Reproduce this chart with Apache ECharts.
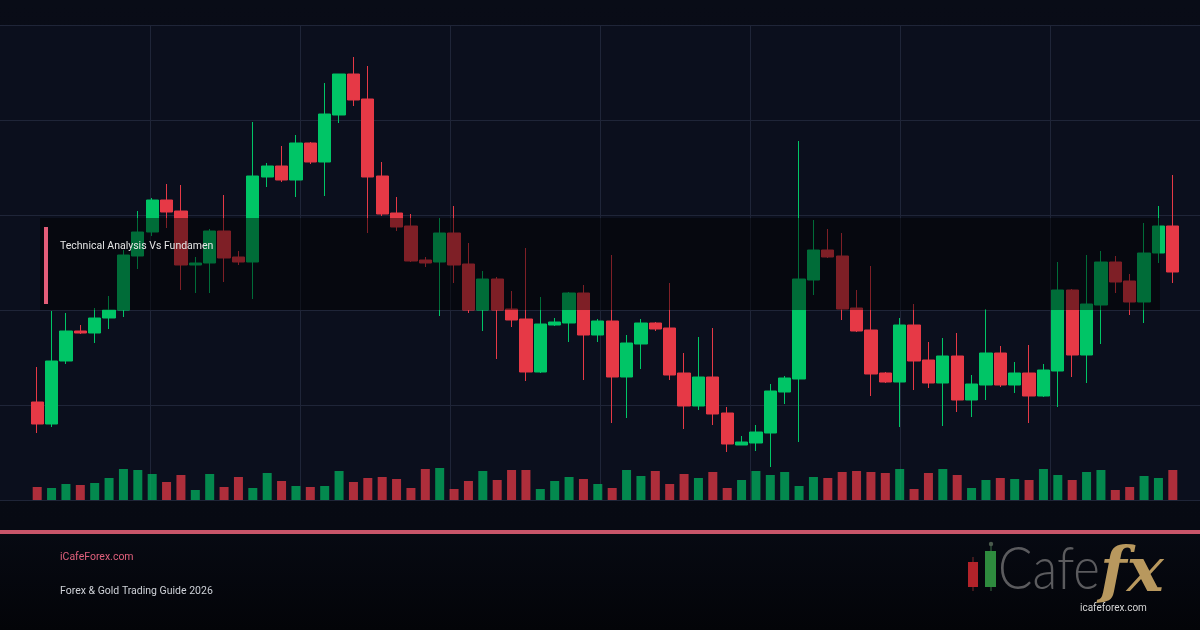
<!DOCTYPE html>
<html><head><meta charset="utf-8">
<script src="https://cdn.jsdelivr.net/npm/echarts@6/dist/echarts.min.js"></script>
<style>html,body{margin:0;padding:0;background:#090c17}#c{width:1200px;height:630px}</style>
</head><body><div id="c"></div>
<script>
// 80 sessions (no axis labels are shown in the picture)
const categories = Array.from({length: 80}, (_, i) => 'D' + (i + 1));

const opens = [2098,2076,2139,2169,2167,2182,2190,2244,2268,2300,2289,2235,2237,2269,2243,2238,2323,2334,2320,2357,
  2338,2385,2426,2401,2324,2287,2274,2240,2238,2267,2236,2190,2221,2191,2181,2128,2175,2177,2207,2165,
  2179,2123,2156,2177,2172,2127,2094,2123,2087,2055,2057,2067,2108,2121,2220,2250,2244,2192,2170,2127,
  2118,2175,2140,2117,2144,2100,2115,2147,2115,2127,2104,2129,2210,2145,2195,2238,2219,2198,2247,2274];
const closes = [2076,2139,2169,2167,2182,2190,2245,2268,2300,2288,2235,2237,2269,2242,2238,2324,2334,2320,2357,2338,
  2386,2426,2400,2323,2286,2273,2239,2237,2267,2235,2190,2221,2190,2180,2128,2176,2178,2207,2165,2179,
  2123,2157,2177,2171,2125,2094,2123,2086,2056,2058,2068,2109,2122,2221,2250,2243,2191,2169,2126,2118,
  2175,2139,2117,2144,2100,2116,2147,2115,2127,2104,2130,2210,2145,2196,2238,2218,2198,2247,2274,2228];
const lows = [2067,2073,2136,2166,2157,2171,2183,2231,2264,2272,2210,2207,2207,2218,2235,2201,2313,2318,2303,2336,
  2304,2377,2394,2267,2284,2269,2238,2233,2184,2217,2187,2169,2141,2173,2119,2127,2174,2158,2120,2158,
  2077,2082,2131,2169,2120,2071,2090,2075,2048,2055,2049,2033,2096,2058,2205,2242,2180,2168,2104,2117,
  2073,2110,2112,2074,2088,2083,2100,2113,2107,2077,2103,2093,2123,2117,2156,2207,2185,2177,2237,2217];
const highs = [2133,2189,2187,2175,2192,2204,2250,2289,2302,2316,2315,2243,2271,2305,2249,2378,2337,2354,2365,2358,
  2417,2426,2443,2434,2338,2303,2286,2243,2282,2294,2257,2229,2223,2209,2252,2203,2182,2208,2215,2181,
  2245,2165,2181,2178,2217,2147,2163,2172,2093,2064,2075,2116,2124,2359,2280,2271,2267,2210,2234,2128,
  2182,2196,2158,2162,2167,2125,2191,2154,2138,2155,2136,2238,2211,2245,2249,2244,2226,2277,2294,2325];
const volumes = [13,12,16,15,17,22,31,30,26,18,25,10,26,13,23,12,27,19,14,13,14,29,18,22,23,21,
  12,31,32,11,19,29,20,30,30,11,19,23,21,16,12,30,24,29,16,26,22,28,12,20,29,25,28,
  14,23,22,28,29,28,27,31,11,27,31,25,12,20,22,21,20,31,25,20,28,30,10,13,24,22,30];

const bandTitle = 'Technical Analysis Vs Fundamen';
const siteName = 'iCafeForex.com';
const guideTitle = 'Forex & Gold Trading Guide 2026';
const logoUrl = 'icafeforex.com';

const UP = '#00c566', DOWN = '#e63946';
const UP_VOL = 'rgba(0,190,100,0.7)', DOWN_VOL = 'rgba(230,57,70,0.75)';

const candleData = categories.map((_, i) => [opens[i], closes[i], lows[i], highs[i]]);
const volData = volumes.map((v, i) => ({value: v, itemStyle: {color: closes[i] >= opens[i] ? UP_VOL : DOWN_VOL}}));

const chart = echarts.init(document.getElementById('c'), null, {renderer: 'canvas'});
const hidden = {axisLabel: {show: false}, axisLine: {show: false}, axisTick: {show: false}};

chart.setOption({
  animation: false,
  backgroundColor: {
    type: 'linear', x: 0, y: 0, x2: 0, y2: 1,
    colorStops: [
      {offset: 0, color: '#090c17'},
      {offset: 0.84, color: '#070a13'},
      {offset: 1, color: '#030408'}
    ]
  },
  grid: [
    {left: 0, right: 0, top: 25, bottom: 130, show: true, backgroundColor: '#0b0f1d', borderWidth: 0},
    {left: 30, right: 20, top: 25, bottom: 130},
    {left: 30, right: 20, top: 440, bottom: 130}
  ],
  xAxis: [
    Object.assign({type: 'value', gridIndex: 0, min: 0, max: 8, interval: 1,
      splitLine: {show: true, showMinLine: false, showMaxLine: false, lineStyle: {color: '#1f2538', width: 1}}}, hidden),
    {type: 'category', gridIndex: 1, data: categories, show: false},
    {type: 'category', gridIndex: 2, data: categories, show: false}
  ],
  yAxis: [
    Object.assign({type: 'value', gridIndex: 0, min: 0, max: 5, interval: 1,
      splitLine: {show: true, lineStyle: {color: '#1f2538', width: 1}}}, hidden),
    {type: 'value', gridIndex: 1, min: 2000, max: 2475, show: false, splitLine: {show: false}},
    {type: 'value', gridIndex: 2, min: 0, max: 60, show: false, splitLine: {show: false}}
  ],
  series: [
    {
      type: 'candlestick', xAxisIndex: 1, yAxisIndex: 1, data: candleData, barWidth: '88%',
      itemStyle: {color: UP, color0: DOWN, borderColor: UP, borderColor0: DOWN, borderWidth: 1}
    },
    {type: 'bar', xAxisIndex: 2, yAxisIndex: 2, data: volData, barWidth: 9}
  ],
  graphic: [
    {type: 'rect', z: 100, shape: {x: 40, y: 218, width: 1120, height: 92}, style: {fill: 'rgba(0,0,0,0.45)'}},
    {type: 'rect', z: 101, shape: {x: 44, y: 227, width: 4, height: 77}, style: {fill: '#e35d78'}},
    {type: 'text', z: 101, x: 60, y: 246, style: {text: bandTitle, fill: '#e6e6e6', fontSize: 10.5, fontFamily: 'Roboto', verticalAlign: 'middle'}},
    {type: 'rect', z: 101, shape: {x: 0, y: 530, width: 1200, height: 4}, style: {fill: '#c8556a'}},
    {type: 'text', z: 101, x: 60, y: 557, style: {text: siteName, fill: '#e0607c', fontSize: 10.5, fontFamily: 'Roboto', verticalAlign: 'middle'}},
    {type: 'text', z: 101, x: 60, y: 591, style: {text: guideTitle, fill: '#cfd2d8', fontSize: 10.5, fontFamily: 'Roboto', verticalAlign: 'middle'}},
    // logo
    {type: 'rect', z: 101, shape: {x: 972.5, y: 557, width: 1, height: 34}, style: {fill: '#7a2a2a'}},
    {type: 'rect', z: 101, shape: {x: 968, y: 562, width: 10, height: 25}, style: {fill: '#b3232a'}},
    {type: 'rect', z: 101, shape: {x: 990.5, y: 544, width: 1, height: 47}, style: {fill: '#3a6a44'}},
    {type: 'circle', z: 101, shape: {cx: 991, cy: 544, r: 2.2}, style: {fill: '#4a5a4c'}},
    {type: 'rect', z: 101, shape: {x: 985, y: 551, width: 11, height: 36}, style: {fill: '#2e8b3e'}},
    {type: 'text', z: 101, x: 998, y: 570, scaleX: 0.85, style: {text: 'Cafe', fill: '#5b5b5e', fontSize: 60, fontFamily: 'Lato', fontWeight: 300, verticalAlign: 'middle'}},
    {type: 'text', z: 101, x: 1100, y: 575, style: {text: 'fx', fill: '#b8985e', fontSize: 62, fontFamily: 'DejaVu Serif', fontWeight: 'bold', fontStyle: 'italic', verticalAlign: 'middle'}},
    {type: 'text', z: 101, x: 1080, y: 608, style: {text: logoUrl, fill: '#d6d6d6', fontSize: 10, fontFamily: 'Roboto', verticalAlign: 'middle'}}
  ]
});
</script></body></html>
